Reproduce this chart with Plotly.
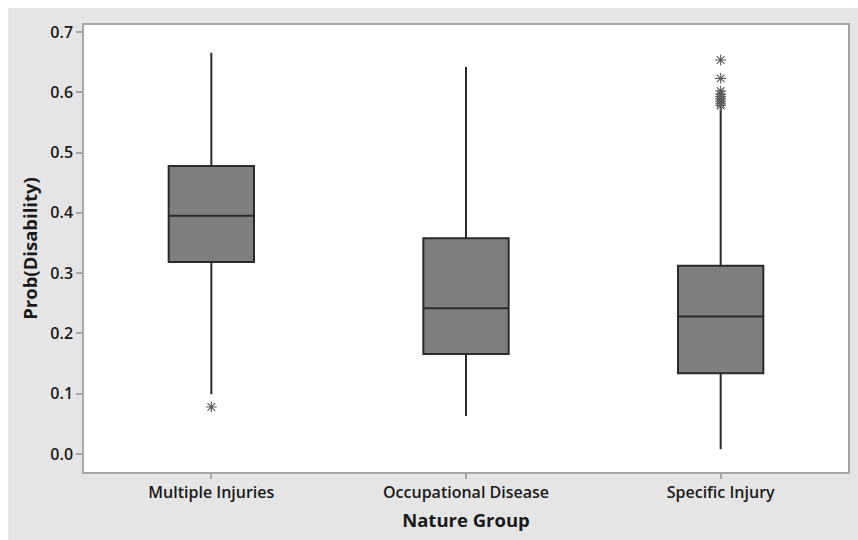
import plotly.graph_objects as go

categories = ["Multiple Injuries", "Occupational Disease", "Specific Injury"]
q1 = [0.3185, 0.166, 0.134]
medians = [0.395, 0.2416, 0.228]
q3 = [0.4777, 0.3577, 0.3124]
lower_whisker = [0.099, 0.063, 0.008]
upper_whisker = [0.6657, 0.642, 0.575]

outlier_x = ["Multiple Injuries", "Specific Injury", "Specific Injury", "Specific Injury",
             "Specific Injury", "Specific Injury", "Specific Injury", "Specific Injury",
             "Specific Injury", "Specific Injury"]
outlier_y = [0.078, 0.6535, 0.6231, 0.602, 0.597, 0.593, 0.589, 0.585, 0.581, 0.578]

y_ticks = [0.0, 0.1, 0.2, 0.3, 0.4, 0.5, 0.6, 0.7]

W, H = 858, 540
L, R, T, B = 84, 8, 25, 68
pw, ph = W - L - R, H - T - B

fig = go.Figure()
fig.add_trace(go.Box(
    x=categories, q1=q1, median=medians, q3=q3,
    lowerfence=lower_whisker, upperfence=upper_whisker,
    fillcolor="#7f7f7f", line=dict(color="#2b2b2b", width=2),
    whiskerwidth=0, width=0.335, boxpoints=False, showlegend=False,
    hoverinfo="y",
))
fig.add_trace(go.Scatter(
    x=outlier_x, y=outlier_y, mode="markers", showlegend=False,
    marker=dict(symbol="asterisk-open", size=9, color="#5a5a5a",
                line=dict(color="#5a5a5a", width=1.1)),
))

font_family = "Open Sans, Noto Sans, sans-serif"
fig.update_layout(
    width=W, height=H,
    margin=dict(l=L, r=R, t=T, b=B, pad=0),
    paper_bgcolor="#e5e5e5", plot_bgcolor="white",
    font=dict(family=font_family, color="#1a1a1a"),
    shapes=[
        dict(type="rect", xref="paper", yref="paper", layer="below",
             x0=-L / pw - 0.01, x1=(8 - L) / pw, y0=-B / ph - 0.01, y1=(H - 0) / ph,
             fillcolor="white", line=dict(width=0)),
        dict(type="rect", xref="paper", yref="paper", layer="below",
             x0=-L / pw - 0.01, x1=1 + R / pw + 0.01, y0=(ph + T - 8) / ph, y1=(ph + T) / ph + 0.01,
             fillcolor="white", line=dict(width=0)),
    ],
    xaxis=dict(
        type="category", range=[-0.5, 2.5], categoryorder="array", categoryarray=categories,
        showline=True, mirror=True, linecolor="#a6a6a6", linewidth=1.5,
        ticks="outside", ticklen=5, tickcolor="#a6a6a6", tickwidth=1.5,
        showgrid=False, zeroline=False,
        tickfont=dict(size=16, weight=600, color="#1a1a1a"),
        title=dict(text="Nature Group", font=dict(size=18.5, weight="bold", color="#1a1a1a"), standoff=12),
    ),
    yaxis=dict(
        range=[-0.0299, 0.7116], tickvals=y_ticks, tickformat=".1f",
        showline=True, mirror=True, linecolor="#a6a6a6", linewidth=1.5,
        ticks="outside", ticklen=6, tickcolor="#a6a6a6", tickwidth=1.5,
        showgrid=False, zeroline=False,
        tickfont=dict(size=16, weight=600, color="#1a1a1a"),
        title=dict(text="Prob(Disability)", font=dict(size=18.5, weight="bold", color="#1a1a1a"), standoff=8),
    ),
)

fig.write_html("out.html")
